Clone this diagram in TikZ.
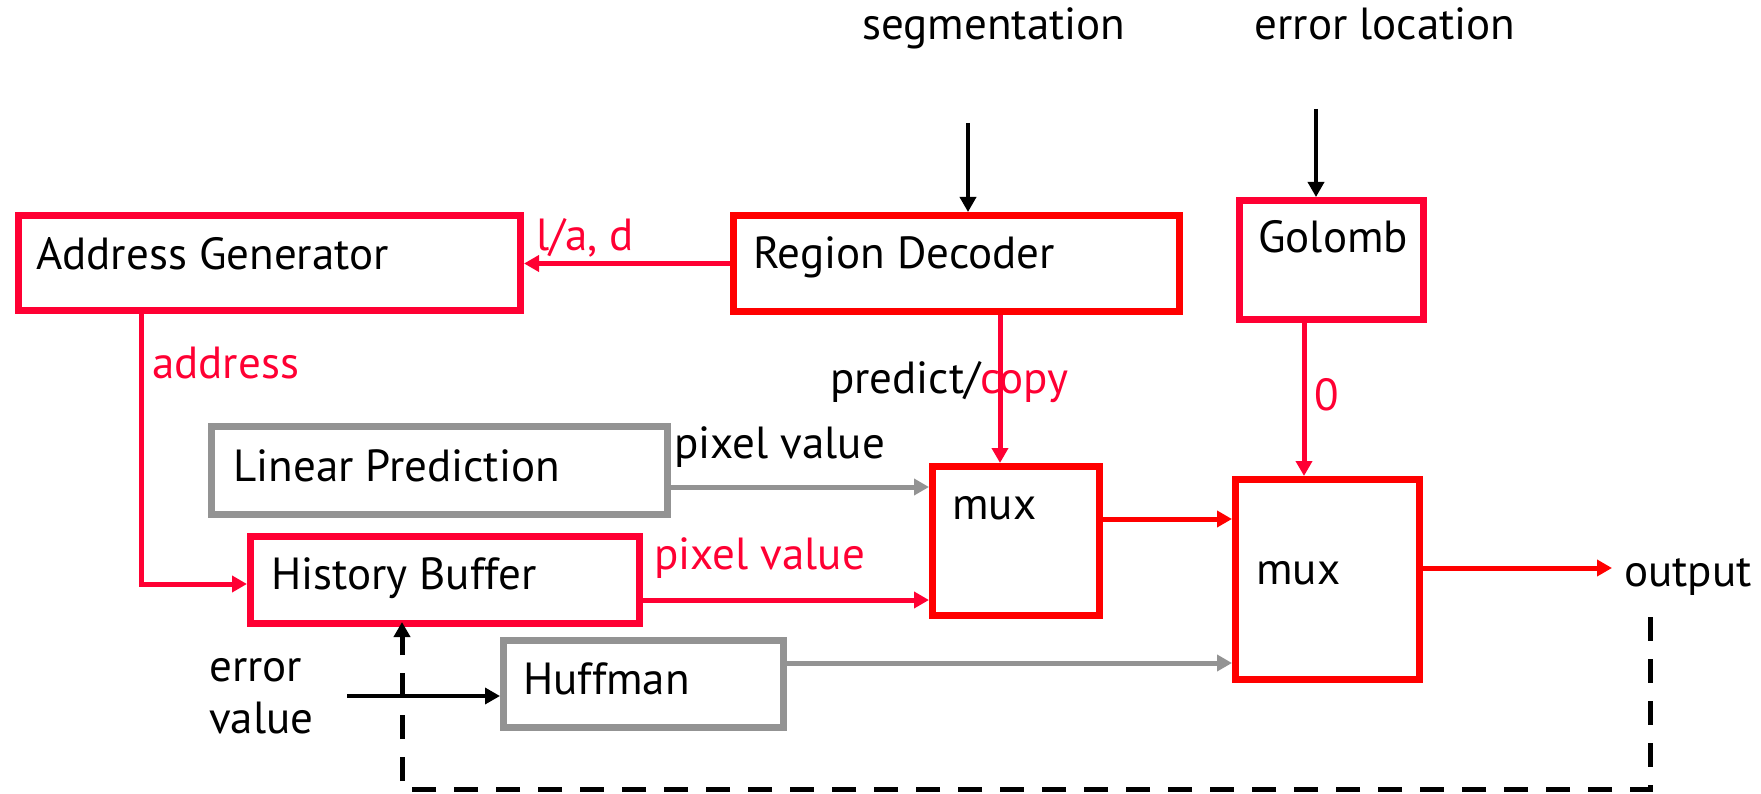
\documentclass[tikz,border=0pt]{standalone}
\usepackage{fontspec}
\setmainfont{PT Sans}
\usetikzlibrary{arrows.meta}
\definecolor{pred}{HTML}{FF0000}
\definecolor{crim}{HTML}{FF0033}
\definecolor{gr}{HTML}{939393}
\tikzset{
  box/.style={line width=7pt, minimum width=#1, inner sep=0pt},
  txt/.style={inner sep=0pt, anchor=base west, font=\fontsize{45}{54}\selectfont},
  tipa/.style={-{Triangle[length=15pt,width=16pt]}},
  redarr/.style={tipa, crim, line width=5pt},
  redarrB/.style={tipa, pred, line width=5pt},
  grayarr/.style={tipa, gr, line width=5pt},
  blackarr/.style={tipa, black, line width=3.5pt},
}
\begin{document}
\begin{tikzpicture}[x=1pt,y=-1pt]
\useasboundingbox (0,0) rectangle (1761,794);
% boxes
\node[box=502pt, minimum height=95pt, draw=crim] (ag) at (269.5,263) {};
\node[box=446pt, minimum height=96pt, draw=pred] (rd) at (956.5,263.5) {};
\node[box=184pt, minimum height=119pt, draw=crim] (gol) at (1331.5,260) {};
\node[box=456pt, minimum height=88pt, draw=gr] (lp) at (439.5,470.5) {};
\node[box=389pt, minimum height=87pt, draw=crim] (hb) at (445,580) {};
\node[box=167pt, minimum height=149pt, draw=pred] (mux1) at (1016,541) {};
\node[box=184pt, minimum height=200pt, draw=pred] (mux2) at (1327.5,579.5) {};
\node[box=280pt, minimum height=87pt, draw=gr] (huf) at (643.5,684) {};
% texts
\node[txt] (agt) at (36,270) {Address Generator};
\node[txt] (rdt) at (753,269) {Region Decoder};
\node[txt] (golt) at (1258,253) {Golomb};
\node[txt] (lpt) at (233,481) {Linear Prediction};
\node[txt] (hbt) at (271,589) {History Buffer};
\node[txt] (m1t) at (952,519) {mux};
\node[txt] (m2t) at (1256,584) {mux};
\node[txt] (huft) at (523,694) {Huffman};
\node[txt, anchor=base] (seg) at (994,40) {segmentation};
\node[txt, anchor=base] (eloc) at (1385,40) {error location};
\node[txt, crim] (lad) at (536,251) {l/a, d};
\node[txt, crim] (addr) at (152,378) {address};
\node[txt] (pv1) at (674,458) {pixel value};
\node[txt, crim] (pv2) at (654,569) {pixel value};
\node[txt] (zero) at (1314,410) {\color{crim}0};
\node[txt, inner xsep=12pt] (out) at (1612,586) {output};
\node[txt] (err) at (209,681) {error};
\node[txt] (val) at (209,733) {value};
% coordinates
\coordinate (segx) at (968,123);
\coordinate (elx) at (1316,109);
\coordinate (addrc) at (141,584);
\coordinate (pcx) at (1000,0);
\coordinate (gox) at (1304,0);
\coordinate (lpy) at (0,487);
\coordinate (hby) at (0,600);
\coordinate (m1y) at (0,519);
\coordinate (oy) at (0,568);
\coordinate (hfy) at (0,663);
\coordinate (evs) at (347,696);
\coordinate (fb1) at (1650,617);
\coordinate (fb2) at (1650,789);
\coordinate (fb3) at (402,789);
% connectors
\draw[blackarr] (segx) -- (segx |- rd.north);
\draw[blackarr] (elx) -- (elx |- gol.north);
\draw[redarr] (rd.west) -- (rd.west -| ag.east);
\draw[redarr] (addrc |- ag.south) -- (addrc) -- (addrc -| hb.west);
\draw[redarr] (pcx |- rd.south) -- (pcx |- mux1.north);
\node[txt] (pc) at (830,393) {predict/\color{crim}copy};
\draw[redarr] (gox |- gol.south) -- (gox |- mux2.north);
\draw[grayarr] (lp.east |- lpy) -- (mux1.west |- lpy);
\draw[redarr] (hb.east |- hby) -- (mux1.west |- hby);
\draw[redarrB] (mux1.east |- m1y) -- (mux2.west |- m1y);
\draw[redarrB] (mux2.east |- oy) -- (out.west |- oy);
\draw[grayarr] (huf.east |- hfy) -- (mux2.west |- hfy);
\draw[blackarr] (evs) -- (evs -| huf.west);
\draw[tipa, line width=5pt, dash pattern=on 24pt off 18pt] (fb1) -- (fb2) -- (fb3) -- ([yshift=5pt]fb3 |- hb.south);
\end{tikzpicture}
\end{document}
